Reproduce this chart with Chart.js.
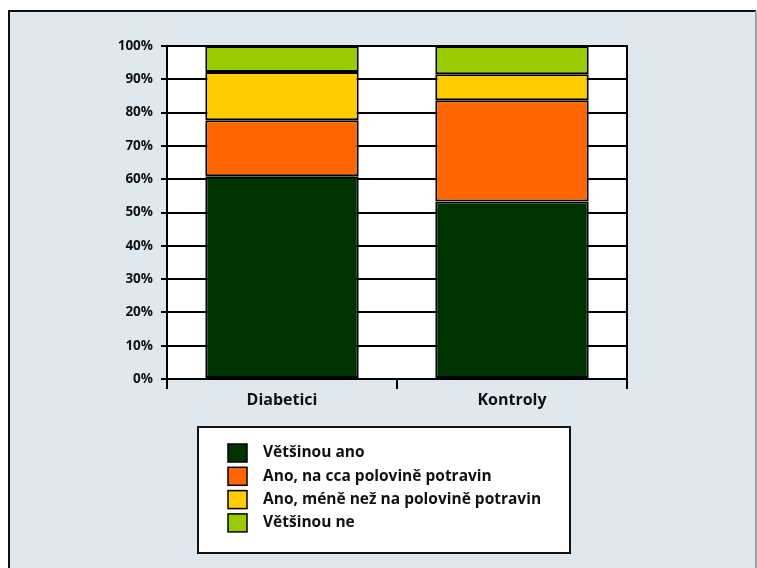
<!DOCTYPE html>
<html>
<head>
<meta charset="utf-8">
<script src="https://cdn.jsdelivr.net/npm/chart.js@4.4.0/dist/chart.umd.min.js"></script>
<style>
  html, body { margin: 0; padding: 0; background: #ffffff; }
  #wrap { position: relative; width: 757px; height: 568px; }
</style>
</head>
<body>
<div id="wrap"><canvas id="stackChart" width="757" height="568"></canvas></div>
<script>
// Skupiny a podíly odpovědí (v %)
const categories = ["Diabetici", "Kontroly"];
const seriesLabels = [
  "Většinou ano",
  "Ano, na cca polovině potravin",
  "Ano, méně než na polovině potravin",
  "Většinou ne"
];
const vetsinouAno = [60.9, 53.3];
const anoPolovina = [16.8, 30.4];
const anoMene = [14.5, 7.8];
const vetsinouNe = [7.8, 8.5];
const seriesColors = ["#003300", "#ff6600", "#ffcc00", "#99cc00"];
const yTicks = [0, 10, 20, 30, 40, 50, 60, 70, 80, 90, 100];

const FONT = "'Open Sans', 'DejaVu Sans', sans-serif";

// pozadí a rámeček celého obrázku
const framePlugin = {
  id: "frame",
  beforeDraw(chart) {
    const ctx = chart.ctx;
    ctx.save();
    ctx.fillStyle = "#ffffff";
    ctx.fillRect(0, 0, chart.width, chart.height);
    ctx.fillStyle = "#e0e8ef";
    ctx.fillRect(9, 11, 746, chart.height - 11);
    ctx.strokeStyle = "#111111";
    ctx.lineWidth = 2;
    ctx.beginPath();
    ctx.moveTo(9, chart.height);
    ctx.lineTo(9, 11);
    ctx.lineTo(756, 11);
    ctx.stroke();
    ctx.strokeStyle = "#9aa3aa";
    ctx.lineWidth = 2;
    ctx.beginPath();
    ctx.moveTo(756, 11);
    ctx.lineTo(756, chart.height);
    ctx.stroke();
    // bílá plocha grafu
    const a = chart.chartArea;
    ctx.fillStyle = "#ffffff";
    ctx.fillRect(a.left, a.top, a.right - a.left, a.bottom - a.top);
    ctx.restore();
  },
  afterDraw(chart) {
    // pravý okraj plochy grafu
    const ctx = chart.ctx;
    const a = chart.chartArea;
    ctx.save();
    ctx.strokeStyle = "#000000";
    ctx.lineWidth = 2;
    ctx.beginPath();
    ctx.moveTo(a.right, a.top - 1);
    ctx.lineTo(a.right, a.bottom);
    ctx.stroke();
    ctx.restore();
  }
};

// legenda v bílém rámečku pod grafem
const boxLegend = {
  id: "boxLegend",
  afterDraw(chart) {
    const ctx = chart.ctx;
    const bx = 198, by = 427, bw = 372, bh = 126;
    ctx.save();
    ctx.fillStyle = "#ffffff";
    ctx.fillRect(bx, by, bw, bh);
    ctx.strokeStyle = "#111111";
    ctx.lineWidth = 2;
    ctx.strokeRect(bx, by, bw, bh);
    ctx.font = "bold 15.5px " + FONT;
    ctx.textBaseline = "middle";
    chart.data.datasets.forEach((ds, i) => {
      const sy = 444 + i * 23.3;
      ctx.fillStyle = ds.backgroundColor;
      ctx.fillRect(228, sy, 19, 18);
      ctx.strokeStyle = "#000000";
      ctx.lineWidth = 1.5;
      ctx.strokeRect(228, sy, 19, 18);
      ctx.fillStyle = "#111111";
      ctx.fillText(ds.label, 263, sy + 9);
    });
    ctx.restore();
  }
};

const seriesData = [vetsinouAno, anoPolovina, anoMene, vetsinouNe];

const data = {
  labels: categories,
  datasets: seriesData.map((vals, i) => ({
    label: seriesLabels[i],
    data: vals,
    backgroundColor: seriesColors[i],
    borderColor: "#000000",
    borderWidth: 2,
    borderSkipped: false,
    barPercentage: 0.667,
    categoryPercentage: 1.0
  }))
};

const config = {
  type: "bar",
  data: data,
  options: {
    responsive: false,
    animation: false,
    layout: { padding: { left: 0, right: 130, top: 46, bottom: 149 } },
    plugins: {
      legend: { display: false },
      tooltip: { enabled: false }
    },
    scales: {
      x: {
        stacked: true,
        grid: {
          offset: true,
          color: (ctx) => (ctx.index === 1 ? "rgba(0,0,0,0)" : "#000000"),
          tickColor: "#000000",
          lineWidth: 2,
          drawOnChartArea: false,
          tickLength: 10
        },
        border: { display: true, color: "#000000", width: 2 },
        ticks: {
          color: "#111111",
          padding: 2,
          font: { family: FONT, size: 16, weight: "bold" }
        },
        afterFit(scale) { scale.height = 40; }
      },
      y: {
        stacked: true,
        min: 0,
        max: 100,
        afterBuildTicks(scale) {
          scale.ticks = yTicks.map((v) => ({ value: v }));
        },
        grid: {
          color: "#000000",
          tickColor: "#000000",
          lineWidth: 2,
          tickLength: 6
        },
        border: { display: true, color: "#000000", width: 2 },
        ticks: {
          color: "#111111",
          padding: 8,
          font: { family: FONT, size: 13.5, weight: "bold" },
          callback: (v) => v + "%"
        },
        afterFit(scale) { scale.width = 167; }
      }
    }
  },
  plugins: [framePlugin, boxLegend]
};

const stackChart = new Chart(document.getElementById("stackChart"), config);
</script>
</body>
</html>
